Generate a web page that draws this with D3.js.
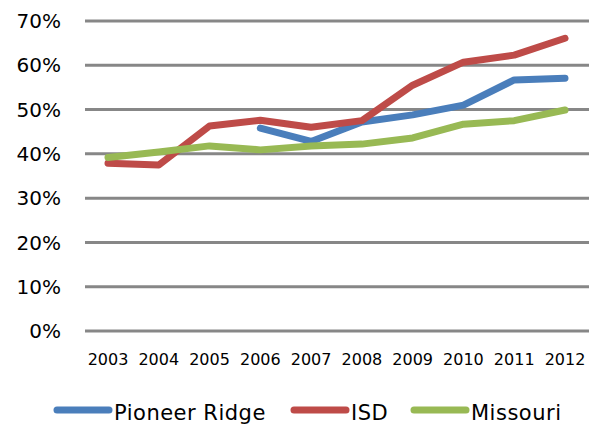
<!DOCTYPE html>
<html>
<head>
<meta charset="utf-8">
<script src="https://cdn.jsdelivr.net/npm/d3@7"></script>
<style>
  body { margin: 0; background: #fff; }
  svg { display: block; font-family: "DejaVu Sans", sans-serif; }
</style>
</head>
<body>
<script>
const years = ["2003", "2004", "2005", "2006", "2007", "2008", "2009", "2010", "2011", "2012"];
const pioneerRidge = [null, null, null, 45.8, 42.8, 47.2, 48.8, 51.0, 56.7, 57.1];
const isd = [37.9, 37.5, 46.3, 47.6, 46.0, 47.5, 55.5, 60.7, 62.3, 66.1];
const missouri = [39.2, 40.4, 41.8, 40.9, 41.8, 42.2, 43.6, 46.7, 47.5, 49.9];
const yTicks = [0, 10, 20, 30, 40, 50, 60, 70];

const series = [
  { name: "Pioneer Ridge", values: pioneerRidge, color: "#4A7EBB" },
  { name: "ISD", values: isd, color: "#BE4B48" },
  { name: "Missouri", values: missouri, color: "#98B954" }
];

const width = 589, height = 424;

const svg = d3.select("body").append("svg")
  .attr("width", width)
  .attr("height", height);

const x = d3.scalePoint().domain(years).range([108, 565]);
const y = d3.scaleLinear().domain([0, 70]).range([331, 21]);

// gridlines
svg.append("g")
  .selectAll("line")
  .data(yTicks)
  .join("line")
  .attr("x1", 85)
  .attr("x2", width)
  .attr("y1", d => y(d))
  .attr("y2", d => y(d))
  .attr("stroke", "#878787")
  .attr("stroke-width", 3);

// y labels
svg.append("g")
  .selectAll("text")
  .data(yTicks)
  .join("text")
  .attr("x", 61)
  .attr("y", d => y(d))
  .attr("dy", "0.36em")
  .attr("text-anchor", "end")
  .attr("font-size", 20)
  .attr("fill", "#000")
  .text(d => d + "%");

// x labels
svg.append("g")
  .selectAll("text")
  .data(years)
  .join("text")
  .attr("x", d => x(d))
  .attr("y", 365)
  .attr("text-anchor", "middle")
  .attr("font-size", 16)
  .attr("fill", "#000")
  .text(d => d);

const line = d3.line()
  .defined(d => d.v != null)
  .x(d => x(d.year))
  .y(d => y(d.v));

svg.append("g")
  .selectAll("path")
  .data(series)
  .join("path")
  .attr("fill", "none")
  .attr("stroke", d => d.color)
  .attr("stroke-width", 7)
  .attr("stroke-linejoin", "round")
  .attr("stroke-linecap", "round")
  .attr("d", d => line(d.values.map((v, i) => ({ year: years[i], v }))));

// legend
const legendX = [55, 292, 412];
const legend = svg.append("g")
  .selectAll("g")
  .data(series)
  .join("g")
  .attr("transform", (d, i) => `translate(${legendX[i]},410)`);

legend.append("line")
  .attr("x1", 2)
  .attr("x2", 54)
  .attr("stroke", d => d.color)
  .attr("stroke-width", 7)
  .attr("stroke-linecap", "round");

legend.append("text")
  .attr("x", 59)
  .attr("y", 10)
  .attr("font-size", 21)
  .attr("letter-spacing", 0.5)
  .attr("fill", "#000")
  .text(d => d.name);
</script>
</body>
</html>
